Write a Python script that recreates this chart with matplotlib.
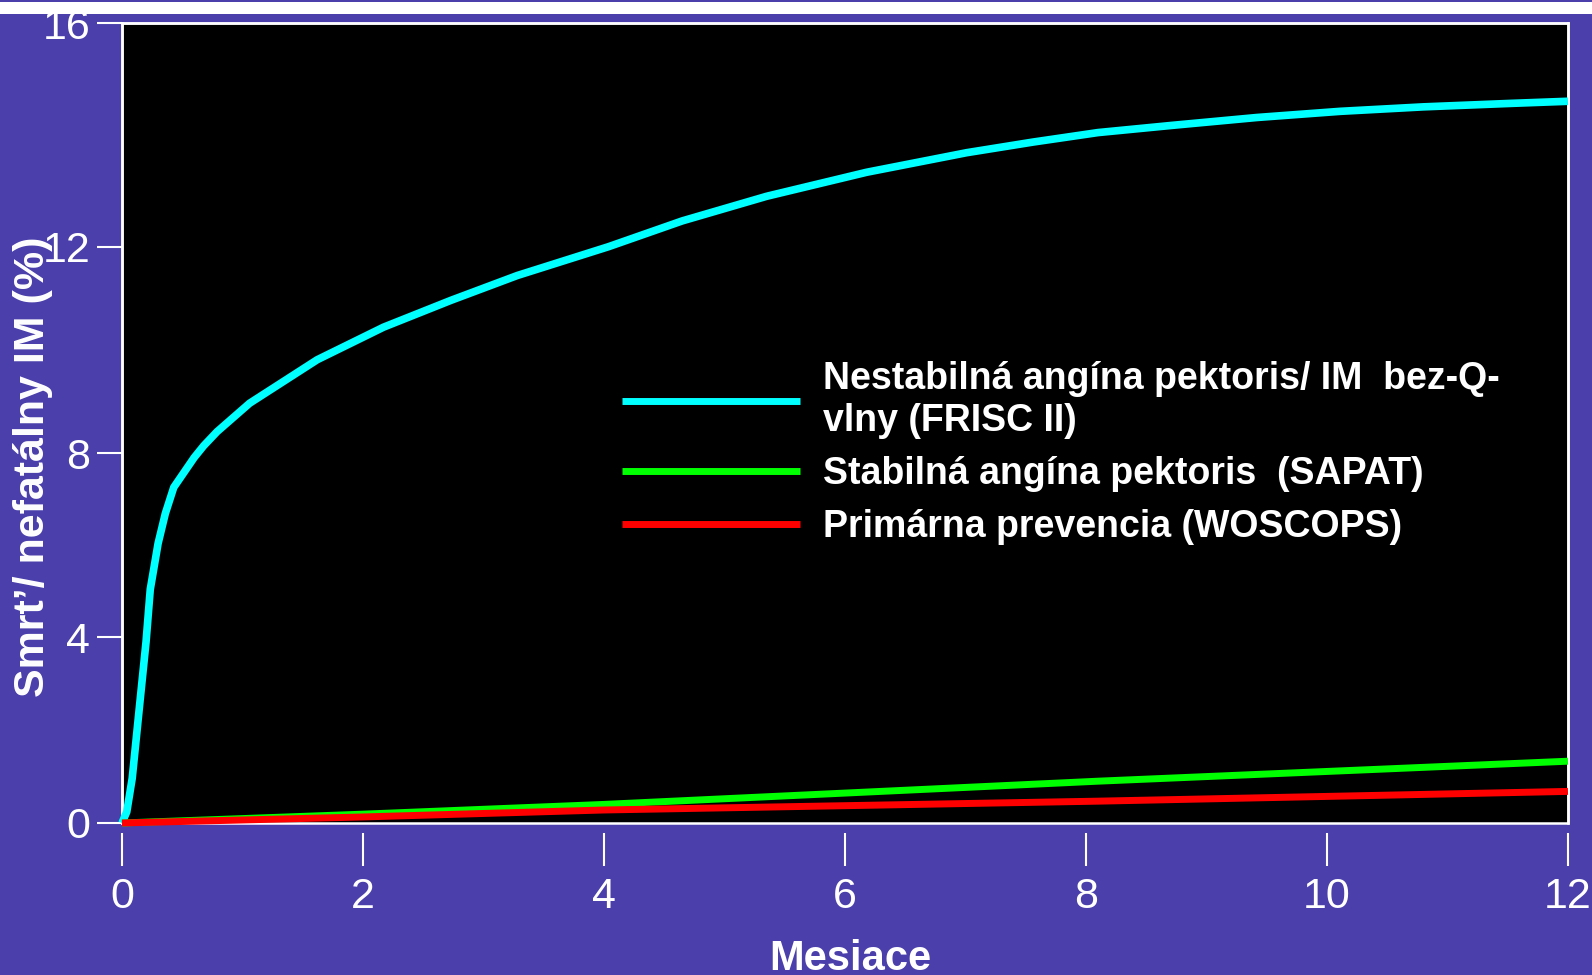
import numpy as np
import matplotlib
matplotlib.use('Agg')
import matplotlib.pyplot as plt
from matplotlib.patches import Rectangle

plt.rcParams['font.family'] = ['Liberation Sans', 'DejaVu Sans']

# data (months, % death / non-fatal MI)
frisc_x = [0, 0.04, 0.085, 0.14, 0.2, 0.235, 0.30, 0.36, 0.43, 0.60, 0.68, 0.79,
           1.06, 1.62, 2.17, 2.73, 3.28, 4.04, 4.65, 5.35, 6.18, 7.01, 7.56, 8.1,
           8.72, 9.42, 10.11, 10.8, 11.5, 12.0]
frisc_y = [0, 0.24, 0.96, 2.37, 3.9, 5.04, 6.04, 6.69, 7.26, 7.91, 8.15, 8.42,
           8.97, 9.81, 10.44, 10.96, 11.44, 12.0, 12.46, 12.9, 13.33, 13.68, 13.87, 14.04,
           14.17, 14.31, 14.42, 14.5, 14.56, 14.6]
sapat_x = [0, 2, 4, 8.1, 12]
sapat_y = [0, 0.19, 0.4, 0.9, 1.33]
woscops_x = [0, 2, 4, 8.1, 12]
woscops_y = [0, 0.13, 0.28, 0.47, 0.68]

labels = ['Nestabilná angína pektoris/ IM  bez-Q-\nvlny (FRISC II)',
          'Stabilná angína pektoris  (SAPAT)',
          'Primárna prevencia (WOSCOPS)']
colors = ['#00ffff', '#00ff00', '#ff0000']

x_ticks = [0, 2, 4, 6, 8, 10, 12]
y_ticks = [0, 4, 8, 12, 16]

# the original y axis is not evenly spaced; piecewise-linear scale through its ticks
y_pix = [0, 187, 372, 580, 805]


def fwd(v):
    v = np.asarray(v, dtype=float)
    out = np.interp(v, y_ticks, y_pix)
    out = out + np.where(v < 0, v * 187 / 4, 0) + np.where(v > 16, (v - 16) * 225 / 4, 0)
    return out


def inv(p):
    p = np.asarray(p, dtype=float)
    out = np.interp(p, y_pix, y_ticks)
    out = out + np.where(p < 0, p * 4 / 187, 0) + np.where(p > 805, (p - 805) * 4 / 225, 0)
    return out


bg = '#4a3fab'
fig = plt.figure(figsize=(15.92, 9.75), dpi=100, facecolor=bg)
ax = fig.add_axes([0.0766, 0.1559, 0.9083, 0.8205])
ax.set_facecolor('black')
ax.patch.set_edgecolor('white')
ax.patch.set_linewidth(1.8)

ax.set_yscale('function', functions=(fwd, inv))

ax.plot(frisc_x, frisc_y, color=colors[0], lw=5.5, label=labels[0], clip_on=False,
        solid_capstyle='butt', solid_joinstyle='round', zorder=3)
ax.plot(sapat_x, sapat_y, color=colors[1], lw=5, label=labels[1], clip_on=False,
        solid_capstyle='butt', zorder=3)
ax.plot(woscops_x, woscops_y, color=colors[2], lw=5, label=labels[2], clip_on=False,
        solid_capstyle='butt', zorder=4)

ax.set_xlim(0, 12)
ax.set_ylim(0, 16)
ax.set_xticks(x_ticks)
ax.set_yticks(y_ticks)
ax.minorticks_off()

for s in ['top', 'right', 'left']:
    ax.spines[s].set_color('white')
    ax.spines[s].set_linewidth(1.8)
ax.spines['bottom'].set_position(('outward', 7))
ax.spines['bottom'].set_visible(False)

ax.tick_params(axis='x', colors='white', length=24, width=1.5, direction='out',
               labelsize=31, pad=8)
ax.tick_params(axis='y', colors='white', length=18, width=1.5, direction='out',
               labelsize=31, pad=5)

ax.set_xlabel('Mesiace', color='white', fontsize=30, fontweight='bold')
ax.xaxis.set_label_coords(0.504, -0.145)
ax.set_ylabel('Smrt’/ nefatálny IM (%)', color='white', fontsize=31, fontweight='bold')
ax.yaxis.set_label_coords(-0.048, 0.445)

leg = ax.legend(loc='upper left', bbox_to_anchor=(0.346, 0.577), frameon=False,
                borderpad=0, borderaxespad=0, handlelength=4.75, handletextpad=0.61,
                labelspacing=0.45, prop={'size': 27, 'weight': 'bold'})
for t in leg.get_texts():
    t.set_color('white')
for h in leg.get_lines():
    h.set_linewidth(5)

# white band along the top edge of the slide
fig.patches.append(Rectangle((0, 1 - 14 / 975), 1, 12 / 975, transform=fig.transFigure,
                             facecolor='white', edgecolor='none', zorder=10))

fig.savefig('out.png', dpi=100, facecolor=bg)
